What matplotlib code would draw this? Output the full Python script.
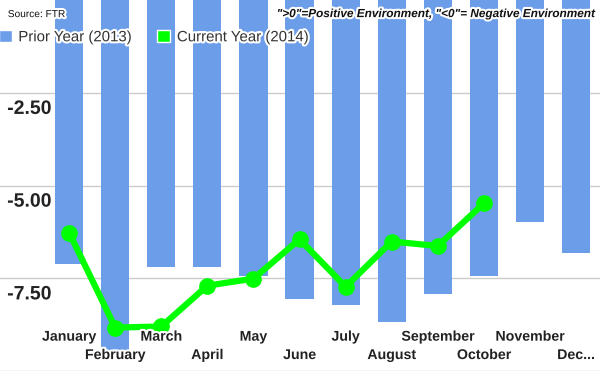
import matplotlib
matplotlib.use("Agg")
import matplotlib.pyplot as plt
import matplotlib.patheffects as pe
from matplotlib.patches import Patch

months = ["January", "February", "March", "April", "May", "June", "July",
          "August", "September", "October", "November", "Dec..."]
prior_2013 = [-7.11, -9.43, -7.21, -7.21, -7.43, -8.05, -8.22, -8.67, -7.92, -7.44, -5.98, -6.81]
current_2014 = [-6.27, -8.83, -8.80, -7.70, -7.51, -6.45, -7.73, -6.51, -6.63, -5.48]
y_ticks = [-2.5, -5.0, -7.5]
y_labels = ["-2.50", "-5.00", "-7.50"]

bar_color = "#6b9de9"
green = "#00ff00"
halo = [pe.withStroke(linewidth=3, foreground="white")]

plt.rcParams["font.family"] = ["Liberation Sans", "DejaVu Sans"]

fig = plt.figure(figsize=(6, 3.71), dpi=100)
ax = fig.add_axes([0, 0, 1, 1])

x = list(range(len(months)))

# gridlines
for v in y_ticks + [-10]:
    ax.axhline(v, color="#cccccc", linewidth=1, zorder=0)

ax.bar(x, prior_2013, width=0.61, color=bar_color, zorder=1)
ax.plot(range(len(current_2014)), current_2014, color=green, linewidth=4.5,
        marker="o", markersize=11, zorder=2)

ax.set_xlim(-1.5, 11.52)
ax.set_ylim(-10, 0)
ax.axis("off")

# y labels sit under their gridlines
for v, lab in zip(y_ticks, y_labels):
    ax.text(0.012, v - 0.22, lab, transform=ax.get_yaxis_transform(),
            ha="left", va="top", fontsize=14, fontweight="bold", color="#222222",
            path_effects=halo)

# staggered month labels
for i, m in enumerate(months):
    yy = 0.0925 if i % 2 == 0 else 0.043
    ax.text(i, yy, m, transform=ax.get_xaxis_transform(), ha="center", va="center",
            fontsize=10.2, fontweight="bold", color="#222222", path_effects=halo)

ax.text(0.013, 0.962, "Source: FTR", transform=ax.transAxes, fontsize=7.3,
        ha="left", va="center", color="#111111", path_effects=halo)
ax.text(0.988, 0.962, '">0"=Positive Environment, "<0"= Negative Environment',
        transform=ax.transAxes, fontsize=8.5, fontweight="bold", style="italic",
        ha="right", va="center", color="#111111", path_effects=halo)

handles = [Patch(facecolor=bar_color, edgecolor="white", label="Prior Year (2013)"),
           Patch(facecolor=green, edgecolor="white", label="Current Year (2014)")]
leg = ax.legend(handles=handles, loc="upper left", bbox_to_anchor=(-0.012, 0.935),
                ncol=2, frameon=False, fontsize=10.8, handlelength=0.85, handleheight=0.85,
                handletextpad=0.45, columnspacing=1.7, borderaxespad=0)
for t in leg.get_texts():
    t.set_color("#333333")
    t.set_path_effects(halo)

fig.savefig("out.png", dpi=100)
